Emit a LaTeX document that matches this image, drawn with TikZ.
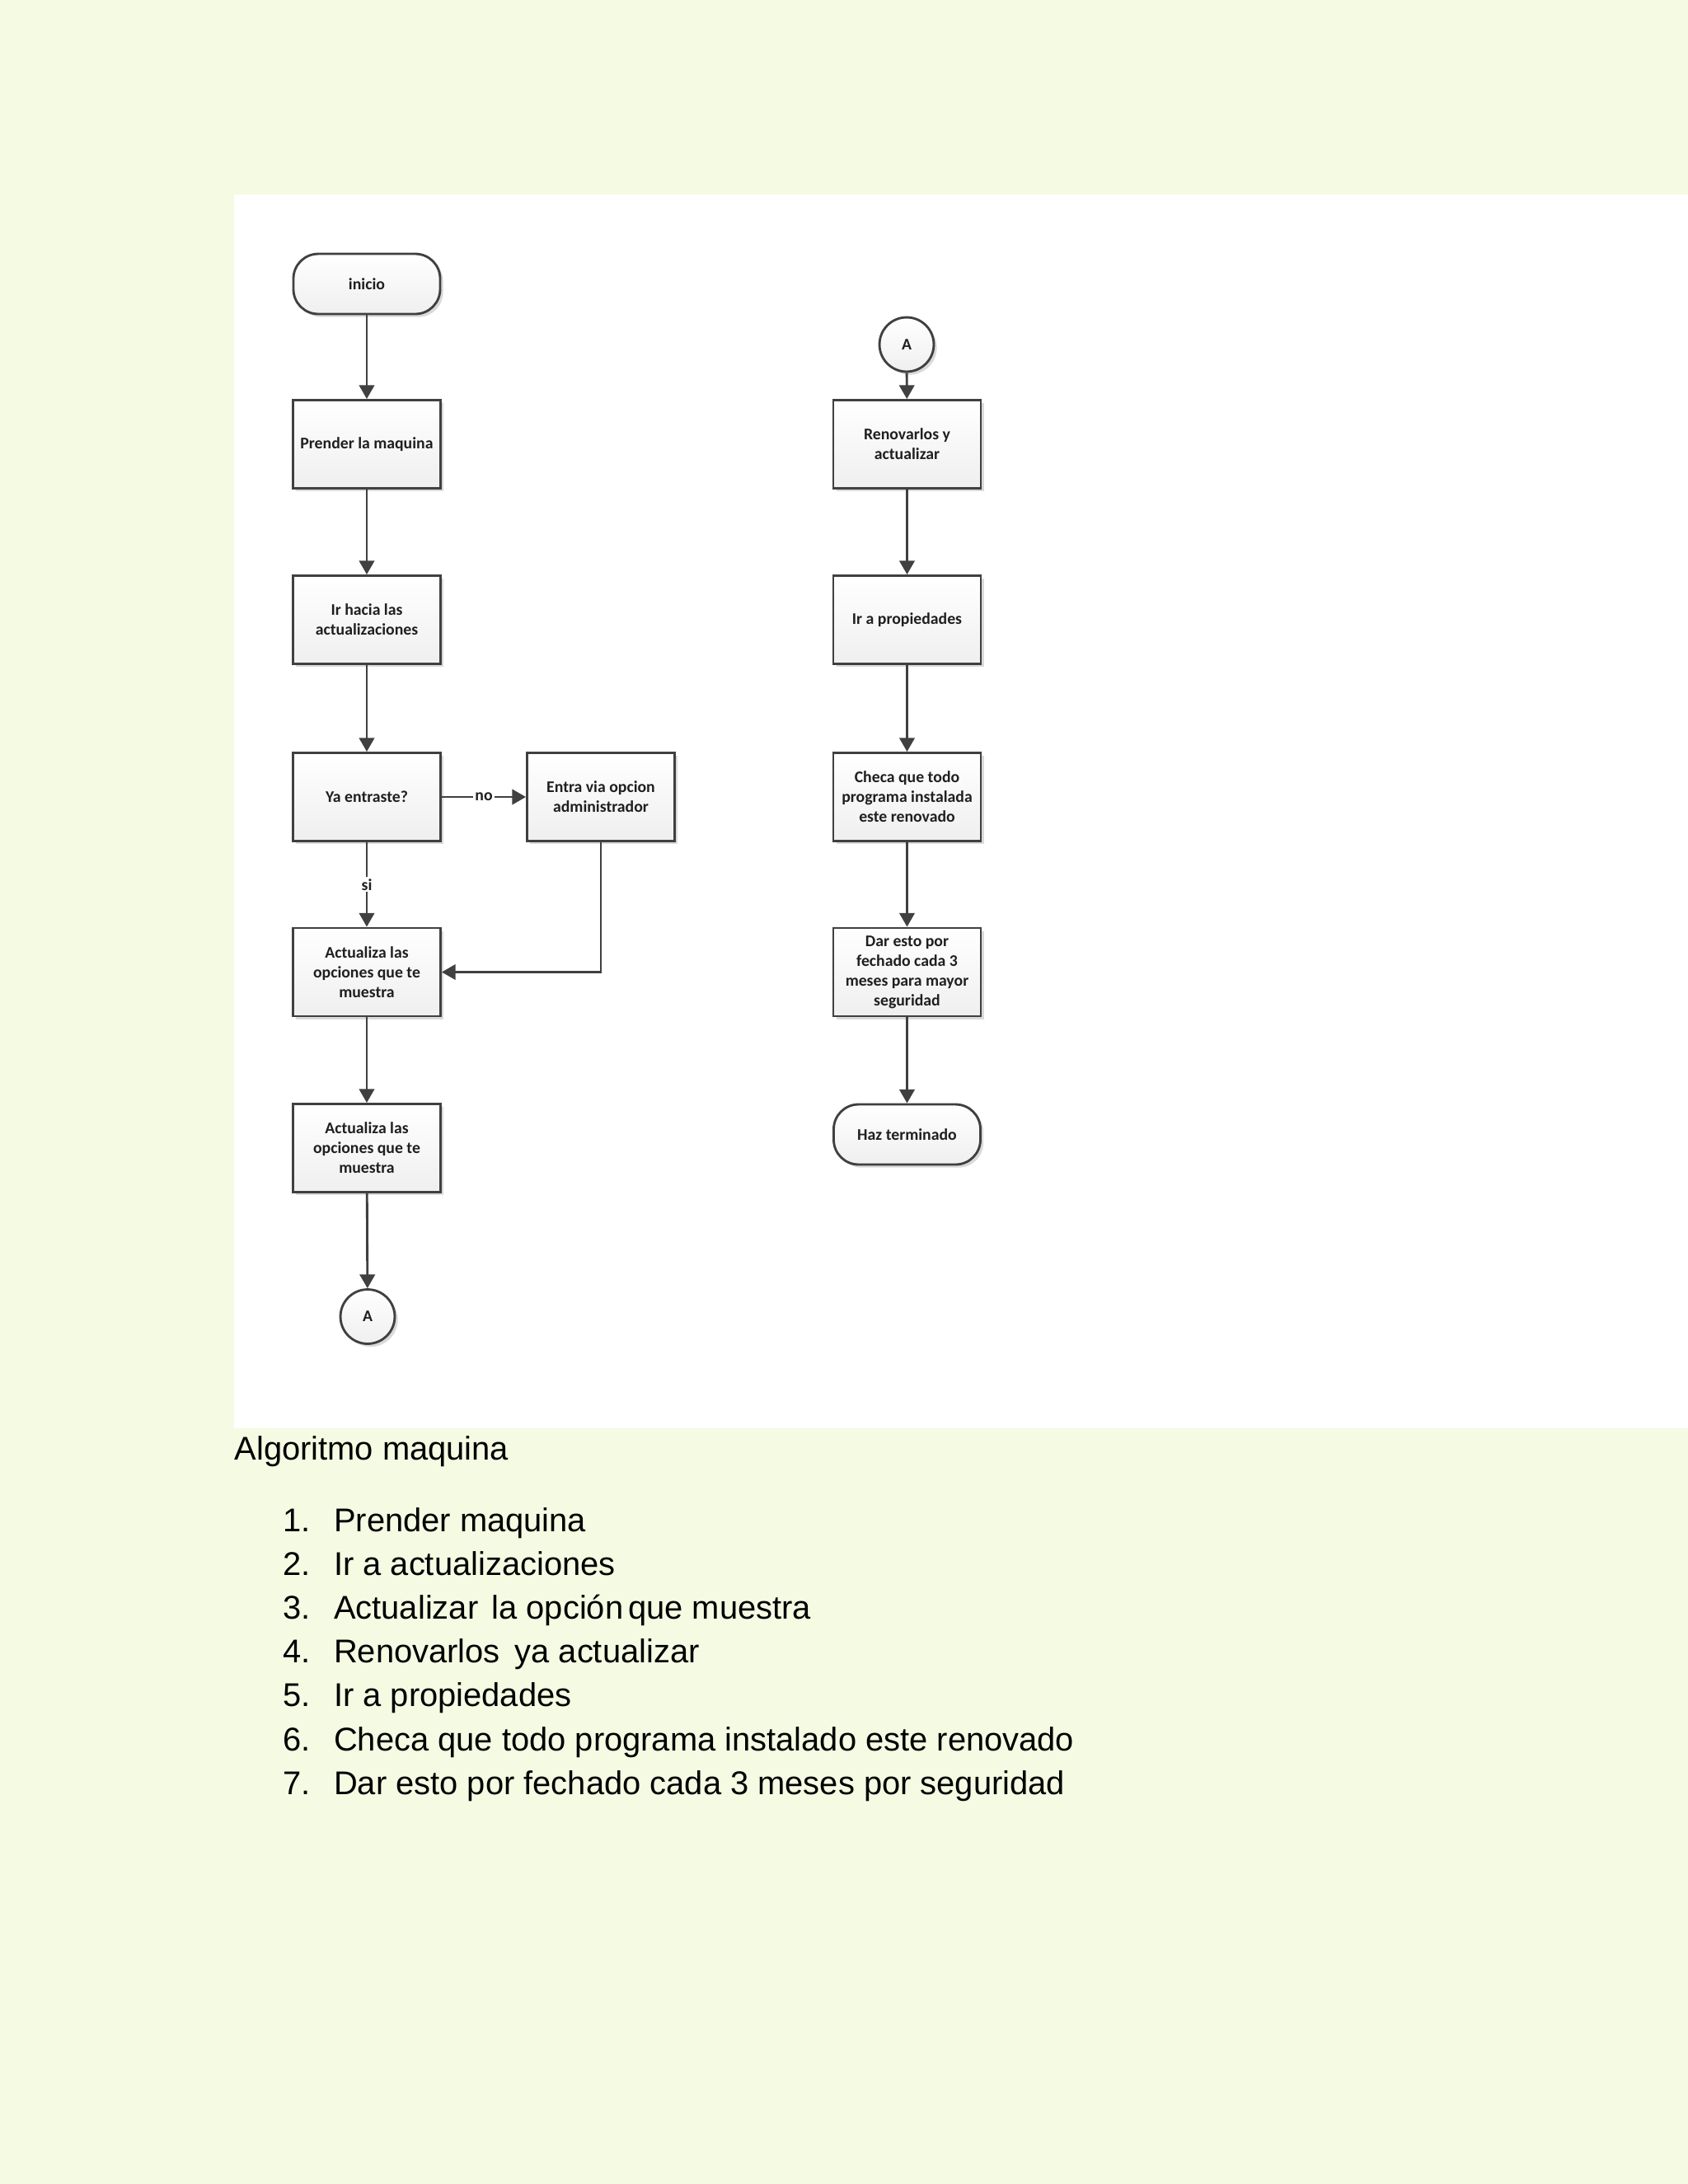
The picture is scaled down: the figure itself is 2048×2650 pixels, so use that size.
\documentclass[tikz,border=0pt]{standalone}
\usepackage{fontspec}
\setmainfont{Liberation Sans}
\newfontfamily\dfont{Carlito}
\usetikzlibrary{arrows.meta,shadows}
\definecolor{bg}{HTML}{F5FAE3}
\definecolor{ln}{HTML}{404040}
\definecolor{boxbot}{HTML}{EFEFEF}
\definecolor{shd}{HTML}{DADADA}
\begin{document}
\begin{tikzpicture}[x=0.29883pt,y=-0.29883pt,
  every node/.style={font=\dfont\bfseries\fontsize{5.9}{7.2}\selectfont, text=black!88},
  stepbox/.style={draw=ln, line width=0.85pt, top color=white, bottom color=boxbot,
    minimum width=53.5pt, minimum height=32pt, inner sep=1pt, align=center,
    drop shadow={shadow xshift=1.1pt, shadow yshift=-1.1pt, fill=shd, opacity=1}},
  term/.style={stepbox, minimum width=53.2pt, minimum height=21.8pt, rounded corners=9pt},
  conn/.style={stepbox, circle, minimum width=19.7pt, minimum height=19.7pt, inner sep=0pt},
  arr/.style={draw=ln, line width=0.85pt, -{Triangle[width=5.5pt,length=5pt]}},
  lbl/.style={fill=white, inner sep=0.6pt},
  listtxt/.style={font=\fontsize{11.92}{14}\selectfont, text=black, anchor=base west, inner sep=0pt}
]
\useasboundingbox (0,0) rectangle (2048,2650);
\fill[bg] (0,0) rectangle (2048,2650);
\fill[white] (284,236) rectangle (2048,1733);

% left column
\node[term] (inicio) at (445,344.5) {inicio};
\node[stepbox] (prender) at (445,539) {Prender la maquina};
\node[stepbox] (irhacia) at (445,752) {Ir hacia las\\actualizaciones};
\node[stepbox] (ya) at (445,967) {Ya entraste?};
\node[stepbox] (entra) at (729,967) {Entra via opcion\\administrador};
\node[stepbox] (act1) at (445,1179.5) {Actualiza las\\opciones que te\\muestra};
\node[stepbox] (act2) at (445,1393) {Actualiza las\\opciones que te\\muestra};
\node[conn] (a1) at (446,1597.5) {A};

% right column
\node[conn] (a2) at (1100,418) {A};
\node[stepbox] (renov) at (1100.5,539) {Renovarlos y\\actualizar};
\node[stepbox] (props) at (1100.5,752) {Ir a propiedades};
\node[stepbox] (checa) at (1100.5,967) {Checa que todo\\programa instalada\\este renovado};
\node[stepbox] (dar) at (1100.5,1179.5) {Dar esto por\\fechado cada 3\\meses para mayor\\seguridad};
\node[term] (haz) at (1100.5,1376.5) {Haz terminado};

% connectors
\draw[arr] (inicio) -- (prender);
\draw[arr] (prender) -- (irhacia);
\draw[arr] (irhacia) -- (ya);
\draw[arr] (ya) -- node[lbl] {no} (entra);
\draw[arr] (ya) -- node[lbl] {si} (act1);
\draw[arr] (entra.south) |- (act1.east);
\draw[arr] (act1) -- (act2);
\draw[arr] (act2) -- (a1);

\draw[arr] (a2) -- (renov);
\draw[arr] (renov) -- (props);
\draw[arr] (props) -- (checa);
\draw[arr] (checa) -- (dar);
\draw[arr] (dar) -- (haz);

% text below
\node[listtxt] (title) at (284,1771) {Algoritmo maquina};
\node[listtxt] (n1) at (343,1858) {1.};
\node[listtxt] (t1) at (404.5,1858) {Prender maquina};
\node[listtxt] (n2) at (343,1911.2) {2.};
\node[listtxt] (t2) at (404.5,1911.2) {Ir a actualizaciones};
\node[listtxt] (n3) at (343,1964.4) {3.};
\node[listtxt] (t3) at (404.5,1964.4) {Actualizar\hspace{1.6pt} la opción\kern1.8pt que muestra};
\node[listtxt] (n4) at (343,2017.6) {4.};
\node[listtxt] (t4) at (404.5,2017.6) {Renovarlos\hspace{2pt} ya actualizar};
\node[listtxt] (n5) at (343,2070.8) {5.};
\node[listtxt] (t5) at (404.5,2070.8) {Ir a propiedades};
\node[listtxt] (n6) at (343,2124) {6.};
\node[listtxt] (t6) at (404.5,2124) {Checa que todo programa instalado este renovado};
\node[listtxt] (n7) at (343,2177.2) {7.};
\node[listtxt] (t7) at (404.5,2177.2) {Dar esto por fechado cada 3 meses por seguridad};
\end{tikzpicture}
\end{document}
